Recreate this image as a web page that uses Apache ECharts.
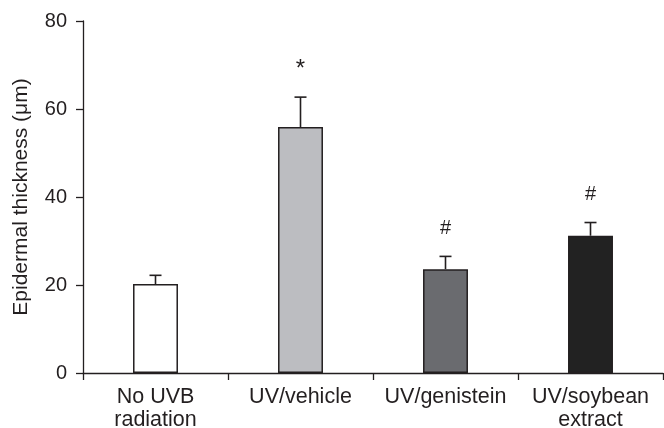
<!DOCTYPE html>
<html>
<head>
<meta charset="utf-8">
<script src="https://cdn.jsdelivr.net/npm/echarts@6/dist/echarts.min.js"></script>
<style>
  html, body { margin: 0; padding: 0; background: #fff; }
  #chart { width: 664px; height: 428px; }
</style>
</head>
<body>
<div id="chart"></div>
<script>
// Epidermal thickness by treatment group (mean with upper SD bar)
const categories = ['No UVB\nradiation', 'UV/vehicle', 'UV/genistein', 'UV/soybean\nextract'];
const means = [20.2, 55.9, 23.6, 31.2];
const errors = [2.0, 6.8, 2.9, 3.0];
const marks = ['', '*', '#', '#'];
const barColors = ['#ffffff', '#bcbdc1', '#6a6b6f', '#222222'];
const yTicks = [0, 20, 40, 60, 80];

const FONT = 'Liberation Sans, Arial, sans-serif';
const INK = '#231f20';

const chart = echarts.init(document.getElementById('chart'), null, { renderer: 'canvas' });

chart.setOption({
  animation: false,
  backgroundColor: '#ffffff',
  grid: {
    left: 83, right: 1, top: 21, bottom: 55,
    containLabel: false,
    outerBoundsMode: 'none'
  },
  xAxis: {
    type: 'category',
    data: categories,
    boundaryGap: true,
    axisLine: { lineStyle: { color: INK, width: 1.3 } },
    axisTick: { show: true, length: 7, inside: false, lineStyle: { color: INK, width: 1.3 } },
    axisLabel: {
      color: INK, fontFamily: FONT, fontSize: 21.5, lineHeight: 23, margin: 13,
      interval: 0
    }
  },
  yAxis: {
    type: 'value',
    min: yTicks[0],
    max: yTicks[yTicks.length - 1],
    interval: yTicks[1] - yTicks[0],
    name: 'Epidermal thickness (\u03bcm)',
    nameLocation: 'middle',
    nameGap: 51,
    nameRotate: 90,
    nameTextStyle: { color: INK, fontFamily: FONT, fontSize: 21 },
    axisLine: { show: true, lineStyle: { color: INK, width: 1.3 } },
    axisTick: { show: true, length: 7, lineStyle: { color: INK, width: 1.3 } },
    axisLabel: { color: INK, fontFamily: FONT, fontSize: 20, margin: 16 },
    splitLine: { show: false }
  },
  series: [
    {
      type: 'bar',
      data: means.map((v, i) => ({
        value: v,
        itemStyle: { color: barColors[i], borderColor: INK, borderWidth: 1.5 }
      })),
      barWidth: '31%',
      z: 2
    },
    {
      type: 'custom',
      z: 3,
      data: means.map((v, i) => [i, v, v + errors[i]]),
      renderItem: function (params, api) {
        const x = api.coord([api.value(0), 0])[0];
        const yBar = api.coord([api.value(0), api.value(1)])[1];
        const yTop = api.coord([api.value(0), api.value(2)])[1];
        const half = 6;
        const style = { stroke: INK, lineWidth: 1.6, fill: null };
        const children = [
          { type: 'line', shape: { x1: x, y1: yBar, x2: x, y2: yTop }, style: style },
          { type: 'line', shape: { x1: x - half, y1: yTop, x2: x + half, y2: yTop }, style: style }
        ];
        const mark = marks[params.dataIndex];
        if (mark) {
          children.push({
            type: 'text',
            style: {
              text: mark,
              x: x,
              y: yTop - 28,
              align: 'center',
              verticalAlign: 'middle',
              fill: INK,
              font: (mark === '*' ? '24px ' : '20px ') + FONT
            }
          });
        }
        return { type: 'group', children: children };
      }
    }
  ]
});
</script>
</body>
</html>
